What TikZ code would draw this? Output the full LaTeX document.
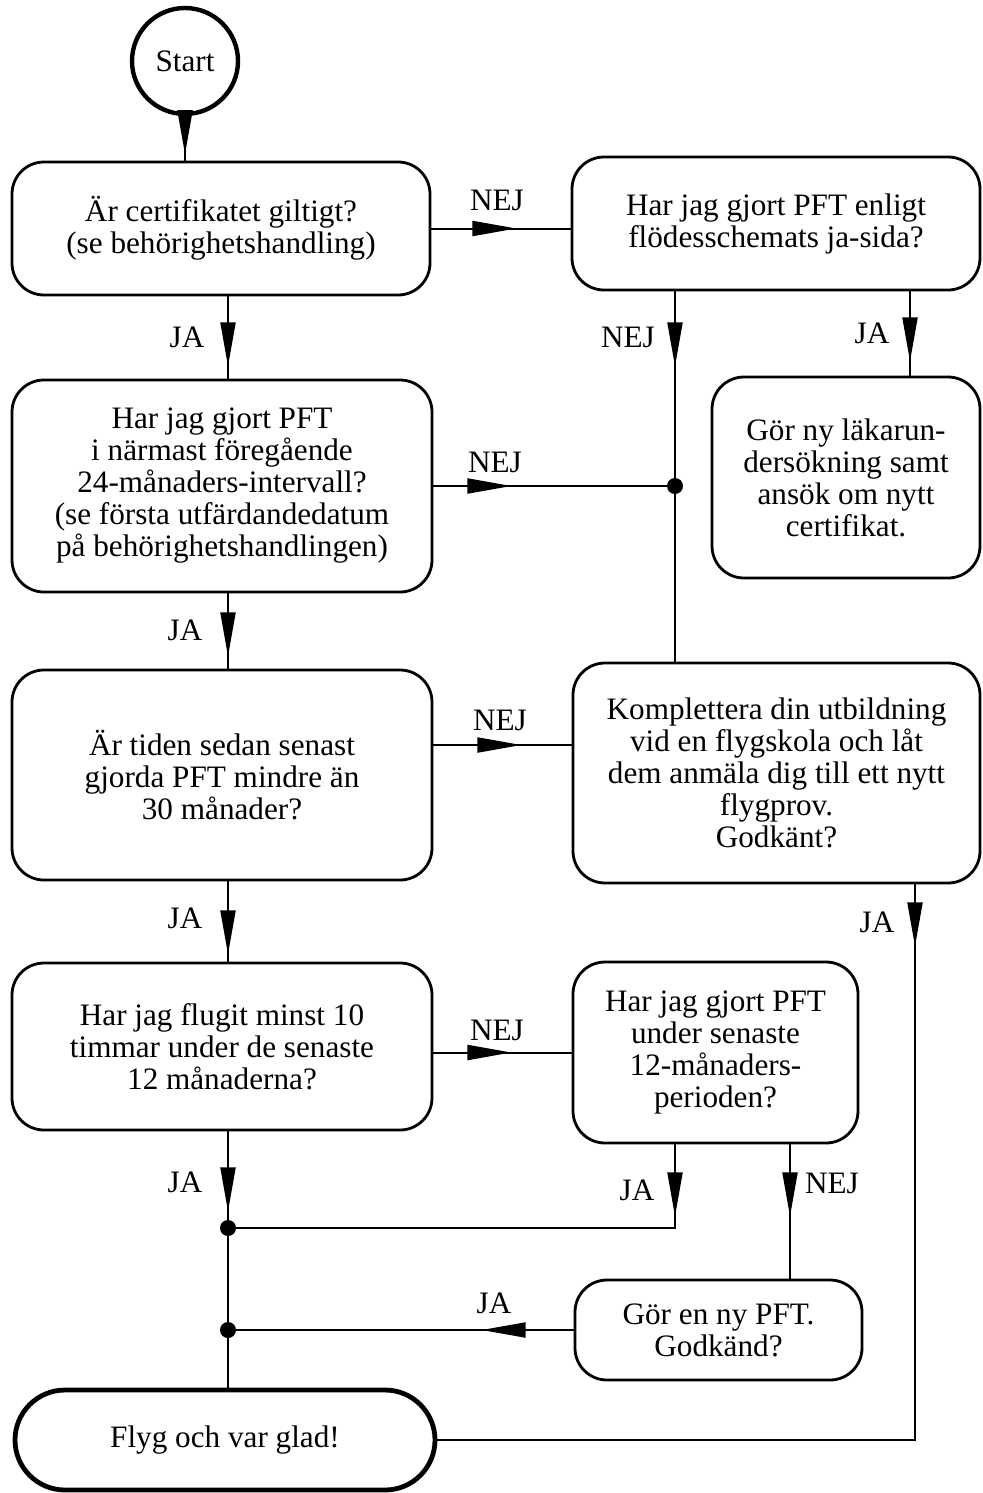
\documentclass[tikz,border=0pt]{standalone}
\usepackage{fontspec}
\setmainfont{Liberation Serif}
\usetikzlibrary{arrows.meta,decorations.markings,calc}
\begin{document}
\begin{tikzpicture}[x=0.5pt,y=-0.5pt,
  font=\fontsize{15.6}{16}\selectfont,
  box/.style={draw, line width=1.4pt, rounded corners=16pt, align=center, inner sep=0pt},
  conn/.style={line width=1pt},
  ah/.style={postaction={decorate, decoration={markings, mark=at position #1 with {\arrow{Triangle[length=22pt,width=7.5pt]}}}}},
  dot/.style={circle, fill, inner sep=0pt, minimum size=8pt},
  lbl/.style={inner sep=0pt},
]
\useasboundingbox (0,0) rectangle (982,1493);

% column / row helpers
\coordinate (colL) at (228,0);
\coordinate (colM) at (675,0);
\coordinate (colR) at (910,0);
\coordinate (colR2) at (915,0);
\coordinate (colH2) at (790,0);
\coordinate (rowEF) at (0,745);
\coordinate (rowD1) at (0,1228);

% nodes
\node[draw, circle, line width=2.2pt, minimum size=53pt, inner sep=0pt] (S) at (185,61) {Start};
\node[box, minimum width=209pt, minimum height=66.5pt] (A) at (221,228.5) {Är certifikatet giltigt?\\(se behörighetshandling)};
\node[box, minimum width=204pt, minimum height=66.5pt] (B) at (776,223.5) {Har jag gjort PFT enligt\\flödesschemats ja-sida?};
\node[box, minimum width=210pt, minimum height=106pt] (C) at (222,486) {Har jag gjort PFT\\i närmast föregående\\24-månaders-intervall?\\(se första utfärdandedatum\\på behörighetshandlingen)};
\node[box, minimum width=134pt, minimum height=100.5pt] (D) at (846,477.5) {Gör ny läkarun-\\dersökning samt\\ansök om nytt\\certifikat.};
\node[box, minimum width=210pt, minimum height=105pt] (E) at (222,775) {Är tiden sedan senast\\gjorda PFT mindre än\\30 månader?};
\node[box, minimum width=203.5pt, minimum height=110pt] (F) at (776.5,773) {Komplettera din utbildning\\vid en flygskola och låt\\dem anmäla dig till ett nytt\\flygprov.\\Godkänt?};
\node[box, minimum width=210pt, minimum height=83.5pt] (G) at (222,1046.5) {Har jag flugit minst 10\\timmar under de senaste\\12 månaderna?};
\node[box, minimum width=142.5pt, minimum height=90.5pt] (H) at (715.5,1052.5) {Har jag gjort PFT\\under senaste\\12-månaders-\\perioden?};
\node[box, minimum width=143.5pt, minimum height=50pt] (I) at (718.5,1330) {Gör en ny PFT.\\Godkänd?};
\node[box, line width=2.4pt, rounded corners=25pt, minimum width=210pt, minimum height=50pt] (J) at (225,1440) {Flyg och var glad!};

% junction dots
\node[dot] (d0) at (C.east -| colM) {};
\node[dot] (d1) at (colL |- rowD1) {};
\node[dot] (d2) at (I.west -| colL) {};

% connectors
\draw[conn, ah=19pt] (S.south) -- (S.south |- A.north);
\draw[conn, ah=42.5pt] (A.east) -- (A.east -| B.west);
\draw[conn, ah=35pt] (A.south -| colL) -- (C.north -| colL);
\draw[conn, ah=35pt] (B.south -| colR) -- (D.north -| colR);
\draw[conn, ah=37.5pt] (B.south -| colM) -- (d0.center) -- (F.north -| colM);
\draw[conn, ah=39pt] (C.east) -- (d0.center);
\draw[conn, ah=31.5pt] (C.south -| colL) -- (E.north -| colL);
\draw[conn, ah=44pt] (E.east |- rowEF) -- (F.west |- rowEF);
\draw[conn, ah=36.5pt] (E.south -| colL) -- (G.north -| colL);
\draw[conn, ah=39pt] (G.east |- H.west) -- (H.west);
\draw[conn, ah=40pt] (G.south -| colL) -- (d1.center) -- (d2.center) -- (J.north -| colL);
\draw[conn, ah=36pt] (H.south -| colM) -- (colM |- d1) -- (d1.center);
\draw[conn, ah=36pt] (H.south -| colH2) -- (I.north -| colH2);
\draw[conn, ah=46pt] (I.west) -- (d2.center);
\draw[conn, ah=31pt] (F.south -| colR2) -- (colR2 |- J.east) -- (J.east);

% labels
\node[lbl] (l1) at (497,200) {NEJ};
\node[lbl] (l2) at (187,337) {JA};
\node[lbl] (l3) at (872,333) {JA};
\node[lbl] (l4) at (628,337) {NEJ};
\node[lbl] (l5) at (495,462) {NEJ};
\node[lbl] (l6) at (185,630) {JA};
\node[lbl] (l7) at (500,720) {NEJ};
\node[lbl] (l8) at (185,918) {JA};
\node[lbl] (l9) at (497,1030) {NEJ};
\node[lbl] (l10) at (185,1182) {JA};
\node[lbl] (l11) at (637,1190) {JA};
\node[lbl] (l12) at (832,1183) {NEJ};
\node[lbl] (l13) at (494,1303) {JA};
\node[lbl] (l14) at (877,922) {JA};
\end{tikzpicture}
\end{document}
